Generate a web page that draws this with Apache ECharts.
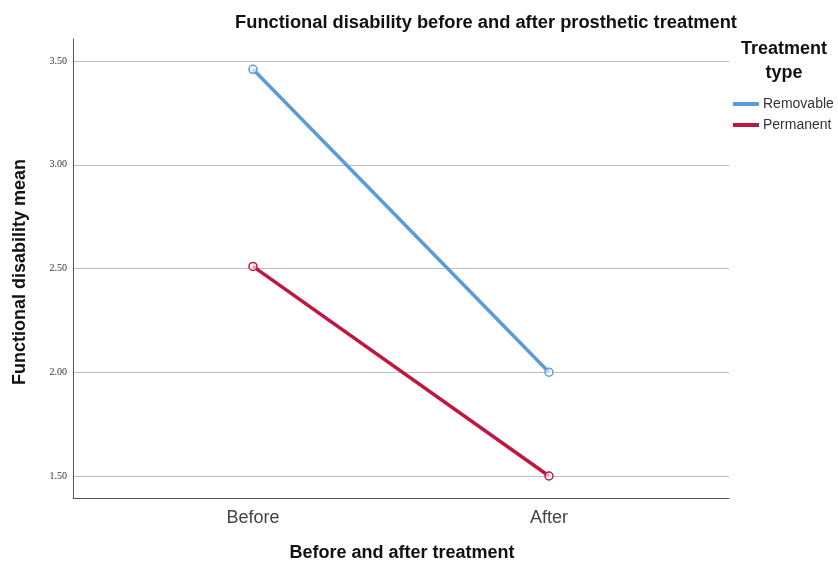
<!DOCTYPE html>
<html>
<head>
<meta charset="utf-8">
<script src="https://cdn.jsdelivr.net/npm/echarts@6/dist/echarts.min.js"></script>
<style>
html,body{margin:0;padding:0;background:#fff;}
#chart{width:838px;height:563px;}
</style>
</head>
<body>
<div id="chart"></div>
<script>
const categories = ['Before', 'After'];
const removable = [3.46, 2.00];
const permanent = [2.51, 1.50];
const seriesNames = ['Removable', 'Permanent'];
const yTicks = [1.5, 2.0, 2.5, 3.0, 3.5];

const chart = echarts.init(document.getElementById('chart'), null, {renderer: 'canvas'});
const blue = '#5B9BD8';
const red = '#C0173F';

const option = {
  backgroundColor: '#ffffff',
  animation: false,
  title: {
    text: 'Functional disability before and after prosthetic treatment',
    left: 481, top: 9, textAlign: 'center',
    textStyle: {fontFamily: 'Liberation Sans, Arial', fontSize: 18.3, fontWeight: 'bold', color: '#111'}
  },
  legend: {
    data: [
      {name: seriesNames[0], itemStyle: {color: blue, borderWidth: 0}},
      {name: seriesNames[1], itemStyle: {color: red, borderWidth: 0}}
    ],
    orient: 'vertical',
    left: 733, top: 97, padding: 0,
    itemWidth: 26, itemHeight: 4, itemGap: 7,
    icon: 'rect',
    textStyle: {fontFamily: 'Liberation Sans, Arial', fontSize: 14, color: '#333', padding: [0,0,0,-1]}
  },
  graphic: [
    {type: 'text', style: {text: 'Treatment\ntype', x: 784, y: 37, textAlign: 'center', font: 'bold 18px "Liberation Sans", Arial', fill: '#111', lineHeight: 24}},
    {type: 'text', style: {text: 'Functional disability mean', x: 0, y: 0, textAlign: 'center', textVerticalAlign: 'middle', font: 'bold 18px "Liberation Sans", Arial', fill: '#111'}, x: 20, y: 272, rotation: Math.PI/2},
    {type: 'text', style: {text: 'Before and after treatment', x: 402, y: 553, textAlign: 'center', textVerticalAlign: 'middle', font: 'bold 18px "Liberation Sans", Arial', fill: '#111'}}
  ],
  grid: [
    {left: 73, right: 109, top: 39, bottom: 65, containLabel: false},
    {left: 73, right: 109, top: 61, bottom: 87, containLabel: false},
    {left: 253, right: 289, top: 61, bottom: 87, containLabel: false}
  ],
  xAxis: [
    {gridIndex: 0, type: 'value', min: 0, max: 1, axisLine: {show: true, lineStyle: {color: '#555', width: 1}}, axisTick: {show: false}, axisLabel: {show: false}, splitLine: {show: false}},
    {gridIndex: 1, type: 'value', min: 0, max: 1, show: false},
    {gridIndex: 2, type: 'category', data: categories, boundaryGap: false,
      axisLine: {show: false}, axisTick: {show: false},
      axisLabel: {margin: 33, fontFamily: 'Liberation Sans, Arial', fontSize: 18, color: '#444'},
      splitLine: {show: false}}
  ],
  yAxis: [
    {gridIndex: 0, type: 'value', min: 0, max: 1, axisLine: {show: true, lineStyle: {color: '#555', width: 1}}, axisTick: {show: false}, axisLabel: {show: false}, splitLine: {show: false}},
    {gridIndex: 1, type: 'value', min: yTicks[0], max: yTicks[yTicks.length-1], interval: 0.5,
      axisLine: {show: false}, axisTick: {show: false},
      axisLabel: {margin: 6, fontFamily: 'Liberation Serif, Times New Roman', fontSize: 10, color: '#333', formatter: v => v.toFixed(2)},
      splitLine: {show: true, lineStyle: {color: '#bdbdbd', width: 1.2}}},
    {gridIndex: 2, type: 'value', min: yTicks[0], max: yTicks[yTicks.length-1], show: false}
  ],
  series: [
    {name: seriesNames[0], type: 'line', xAxisIndex: 2, yAxisIndex: 2, data: removable,
      color: blue, lineStyle: {width: 3.5, color: blue},
      symbol: 'circle', symbolSize: 8, showSymbol: true,
      itemStyle: {color: 'rgba(255,255,255,0.6)', borderColor: blue, borderWidth: 1.5}},
    {name: seriesNames[1], type: 'line', xAxisIndex: 2, yAxisIndex: 2, data: permanent,
      color: red, lineStyle: {width: 3.5, color: red},
      symbol: 'circle', symbolSize: 8, showSymbol: true,
      itemStyle: {color: 'rgba(255,255,255,0.6)', borderColor: red, borderWidth: 1.5}}
  ]
};
chart.setOption(option);
</script>
</body>
</html>
